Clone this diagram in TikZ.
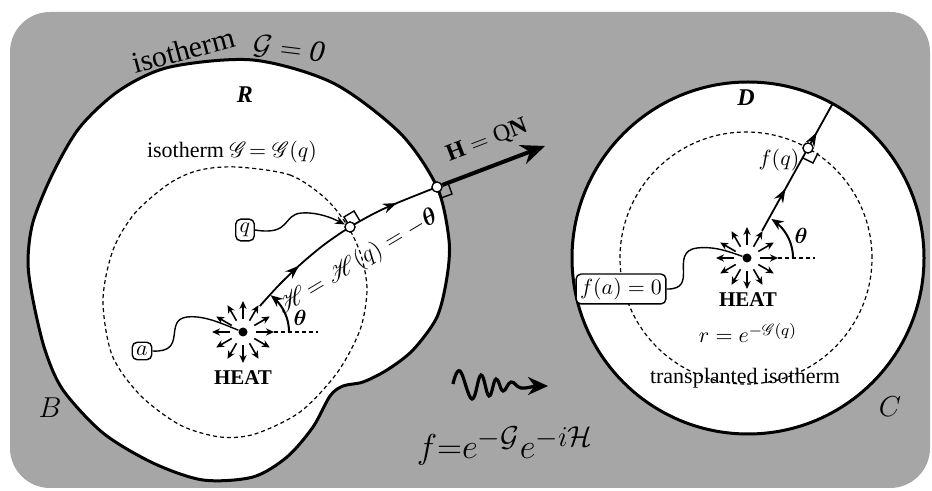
\documentclass[tikz,border=0pt]{standalone}
\usepackage{amsmath}
\usepackage{fontspec}
\setmainfont{Liberation Serif}
\usepackage{mathrsfs}
\usetikzlibrary{arrows.meta,decorations.markings}
\tikzset{
  bnd/.style={line width=1.5pt},
  iso/.style={dashed, line width=0.6pt, dash pattern=on 2pt off 1.5pt},
  curv/.style={line width=0.9pt},
  heatarrow/.style={line width=0.8pt, -{Stealth[length=4pt,width=3.6pt]}},
  lbl/.style={font=\fontsize{11}{13}\selectfont, inner sep=1pt},
  boxlbl/.style={draw, line width=0.7pt, rounded corners=2.5pt, inner sep=2pt, fill=white, font=\fontsize{11}{13}\selectfont},
  pt/.style={circle, draw, fill=white, line width=0.6pt, inner sep=0pt, minimum size=5pt},
  wig/.style={line width=0.7pt},
  rtang/.style={line width=0.7pt},
}
\begin{document}
\begin{tikzpicture}[x=0.5pt,y=-0.5pt]
\useasboundingbox (0,0) rectangle (932,491);
\fill[white] (0,0) rectangle (932,491);
\fill[black!35, rounded corners=20pt] (10,12) rectangle (930,488);
% region R
\draw[bnd, fill=white] plot[smooth cycle] coordinates {(253,60) (333,83) (400,133) (437,187) (449,240) (447,277) (437,317) (413,350) (387,370) (363,382) (343,386) (330,396) (313,427) (287,457) (253,477) (203,480) (153,463) (103,433) (63,390) (45,350) (33,300) (28,262) (33,222) (53,173) (80,127) (120,90) (170,67)};
% disk D
\draw[bnd, fill=white] (748,258) circle[radius=88pt];
% isotherms
\draw[iso] plot[smooth cycle] coordinates {(237,167) (290,175) (325,198) (347,225) (361,255) (367,290) (360,330) (337,373) (300,412) (255,434) (220,437) (180,425) (140,395) (112,355) (103,300) (113,250) (135,213) (170,183) (200,170)};
\draw[iso] (746,258) circle[radius=63pt];
% heat sources
\foreach \a in {0,30,...,330} {
  \draw[heatarrow] ({243+13*cos(\a)},{332-13*sin(\a)}) -- ({243+31*cos(\a)},{332-31*sin(\a)});
  \draw[heatarrow] ({747+13*cos(\a)},{258-13*sin(\a)}) -- ({747+31*cos(\a)},{258-31*sin(\a)});
}
\node[circle, fill, inner sep=0pt, minimum size=4.5pt] (heatL) at (243,332) {};
\node[circle, fill, inner sep=0pt, minimum size=4.5pt] (heatR) at (747,258) {};
\coordinate (cL) at ({243+31*cos(57)},{332-31*sin(57)});
\coordinate (cR) at ({747+31*cos(61)},{258-31*sin(61)});
\coordinate (bR) at (833,103);
% theta lines
\draw[iso] (274,332) -- (318,332);
\draw[iso] (778,258) -- (815,258);
\draw[line width=1pt, -{Stealth[length=6pt,width=5pt]}] plot[domain=0:53, samples=20] ({243+46*cos(\x)},{332-46*sin(\x)});
\draw[line width=1pt, -{Stealth[length=6pt,width=5pt]}] plot[domain=0:58, samples=20] ({747+46*cos(\x)},{258-46*sin(\x)});
% points
\node[pt] (qpt) at (350,227) {};
\node[pt] (Hpt) at (437,187) {};
\node[pt] (fqpt) at (808,148) {};
% field line left
\draw[curv, postaction={decorate}, decoration={markings, mark=at position 0.26 with {\arrow{Stealth[length=7pt,width=5pt]}}, mark=at position 0.8 with {\arrow{Stealth[length=7pt,width=5pt]}}}]
  plot[smooth] coordinates {(cL) (280,284) (302,263) (325,244) (350,227) (375,213) (397,203) (437,187)};
% field line right
\draw[curv, postaction={decorate}, decoration={markings, mark=at position 0.33 with {\arrow{Stealth[length=7pt,width=5pt]}}, mark=at position 0.77 with {\arrow{Stealth[length=7pt,width=5pt]}}}]
  (cR) -- (bR);
% flux arrow
\draw[line width=2pt, -{Stealth[length=12pt,width=10pt]}] (Hpt) -- (545,146);
% right angle marks
\draw[rtang] (350,227) -- (344,217) -- (354,211) -- (360,221);
\draw[rtang] (448,183) -- (452,194) -- (441,198) -- (437,187);
\draw[rtang] (803,158) -- (813,163) -- (818,153);
% redraw points on top
\node[pt] at (qpt) {};
\node[pt] at (Hpt) {};
\node[pt] at (fqpt) {};
% labels
\node[lbl, font=\fontsize{12}{14}\selectfont\bfseries\itshape] (R) at (245,95) {R};
\node[lbl, font=\fontsize{12}{14}\selectfont\bfseries\itshape] (D) at (746,98) {D};
\node[lbl] (isoq) at (232,152) {isotherm $\mathscr{G}\!=\mathscr{G}(q)$};
\node[lbl, font=\fontsize{15}{17}\selectfont, rotate=15, anchor=base] (isoA) at (186,60) {isotherm};
\node[lbl, font=\fontsize{15}{17}\selectfont, rotate=-7, anchor=base] (isoB) at (288,58) {$\mathcal{G}=\mathit{0}$};
\node[lbl, font=\fontsize{11.5}{13}\selectfont, rotate=31] (Hlbl) at (358,262) {$\mathscr{H}\!=\mathscr{H}(q)=-\boldsymbol{\theta}$};
\node[lbl, font=\fontsize{12}{14}\selectfont, rotate=21] (QN) at (487,141) {$\mathbf{H}=\mathrm{Q}\mathbf{N}$};
\node[lbl] (thL) at (300,318) {$\boldsymbol{\theta}$};
\node[lbl] (thR) at (801,236) {$\boldsymbol{\theta}$};
\node[lbl, font=\fontsize{10.5}{12}\selectfont\bfseries] (heatLt) at (243,378) {HEAT};
\node[lbl, font=\fontsize{10.5}{12}\selectfont\bfseries] (heatRt) at (748,300) {HEAT};
\node[lbl] (rlbl) at (748,333) {$r=e^{-\mathscr{G}(q)}$};
\node[lbl] (trans) at (745,378) {transplanted isotherm};
\node[lbl] (fq) at (779,160) {$f(q)$};
\node[lbl, font=\fontsize{15}{17}\selectfont] (B) at (50,408) {$B$};
\node[lbl, font=\fontsize{15}{17}\selectfont] (C) at (890,407) {$C$};
\node[lbl, font=\fontsize{19}{22}\selectfont] (formula) at (505,446) {$f{=}e^{-\mathcal{G}}e^{-i\mathcal{H}}$};
% boxes
\node[boxlbl] (qbox) at (245,230) {$q$};
\node[boxlbl] (abox) at (142,351) {$a$};
\node[boxlbl] (fabox) at (621,289) {$f(a)=0$};
% wiggly connectors
\draw[wig, -{Stealth[length=5pt,width=4pt]}] (qbox.east) .. controls (292,236) and (282,214) .. (302,213) .. controls (318,212) and (332,218) .. (qpt);
\draw[wig] (abox.east) .. controls (188,353) and (163,320) .. (187,317) .. controls (205,315) and (225,325) .. (heatL);
\draw[wig] (fabox.east) .. controls (700,290) and (668,252) .. (697,248) .. controls (715,246) and (730,252) .. (heatR);
% squiggle arrow
\coordinate (sqs) at (453,384);
\coordinate (sqe) at (548,386);
\draw[line width=1.6pt, -{Stealth[length=10pt,width=9pt]}] plot[smooth, tension=0.7] coordinates {(sqs) (460,371) (472,399) (481,375) (489,396) (496,379) (503,391) (511,382) (521,388) (535,386)} -- (sqe);
\end{tikzpicture}
\end{document}
